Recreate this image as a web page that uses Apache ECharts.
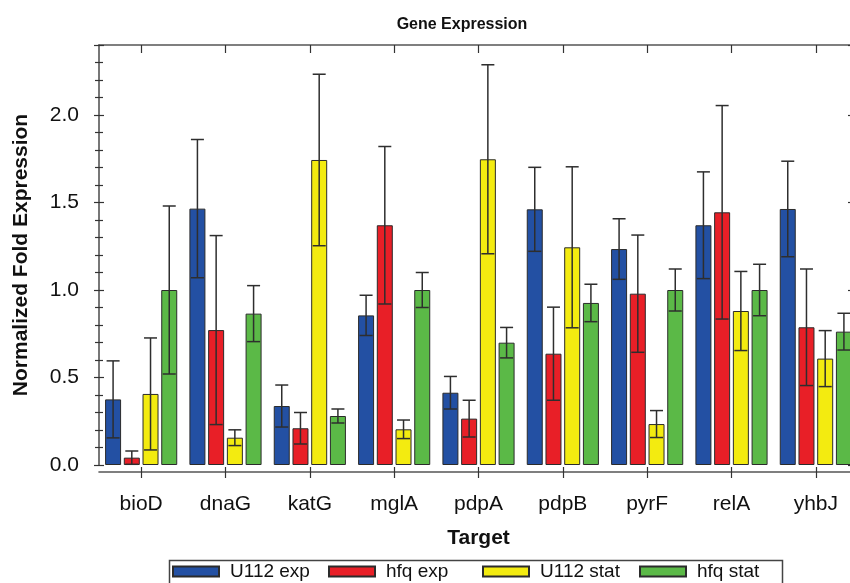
<!DOCTYPE html>
<html>
<head>
<meta charset="utf-8">
<script src="https://cdn.jsdelivr.net/npm/echarts@6/dist/echarts.min.js"></script>
<style>
html,body{margin:0;padding:0;background:#fff;overflow:hidden;width:850px;height:583px;}
#chart{width:858px;height:583px;}
</style>
</head>
<body>
<div id="chart"></div>
<script>
const categories = ['bioD','dnaG','katG','mglA','pdpA','pdpB','pyrF','relA','yhbJ'];
const seriesNames = ['U112 exp','hfq exp','U112 stat','hfq stat'];
const u112Exp = [0.375, 1.465, 0.337, 0.855, 0.413, 1.461, 1.234, 1.37, 1.463];
const u112ExpErr = [0.22, 0.395, 0.12, 0.115, 0.093, 0.24, 0.173, 0.305, 0.273];
const hfqExp = [0.042, 0.771, 0.21, 1.37, 0.265, 0.636, 0.979, 1.444, 0.787];
const hfqExpErr = [0.038, 0.54, 0.09, 0.45, 0.105, 0.266, 0.335, 0.61, 0.333];
const u112Stat = [0.406, 0.156, 1.743, 0.204, 1.747, 1.244, 0.234, 0.88, 0.608];
const u112StatErr = [0.32, 0.045, 0.49, 0.053, 0.54, 0.46, 0.077, 0.226, 0.16];
const hfqStat = [1.0, 0.865, 0.28, 1.0, 0.699, 0.926, 1.0, 1.0, 0.762];
const hfqStatErr = [0.48, 0.16, 0.04, 0.1, 0.087, 0.107, 0.12, 0.147, 0.105];
const yTicks = [0, 0.5, 1.0, 1.5, 2.0];

const values = [u112Exp, hfqExp, u112Stat, hfqStat];
const errs = [u112ExpErr, hfqExpErr, u112StatErr, hfqStatErr];
const colors = ['#2350a3', '#e81f27', '#f3eb10', '#5bb947'];

const BAR_W = 16, BAR_GAP = 0.17;
const FONT = 'Liberation Sans, Arial, sans-serif';
const LEGEND_LEFT = [172, 328, 482, 639];

const chart = echarts.init(document.getElementById('chart'));

const barSeries = seriesNames.map((name, k) => ({
  name, type: 'bar', xAxisIndex: 0, yAxisIndex: 0,
  data: values[k],
  barWidth: BAR_W, barGap: (BAR_GAP*100)+'%',
  itemStyle: {color: colors[k], borderColor: '#2b2b2b', borderWidth: 1},
  z: 2
}));

const errSeries = seriesNames.map((name, k) => ({
  type: 'custom', xAxisIndex: 0, yAxisIndex: 0, z: 5, silent: true,
  data: values[k].map((v, i) => [i, v - errs[k][i], v + errs[k][i]]),
  renderItem(params, api) {
    const i = api.value(0);
    const pLo = api.coord([i, Math.max(0, api.value(1))]);
    const pHi = api.coord([i, api.value(2)]);
    const step = BAR_W * (1 + BAR_GAP);
    const cx = pLo[0] + (k - 1.5) * step;
    const hw = 6.5;
    const st = {stroke: '#2e2e2e', lineWidth: 1.5};
    return {type: 'group', children: [
      {type: 'line', shape: {x1: cx, y1: pLo[1], x2: cx, y2: pHi[1]}, style: st},
      {type: 'line', shape: {x1: cx-hw, y1: pHi[1], x2: cx+hw, y2: pHi[1]}, style: st},
      {type: 'line', shape: {x1: cx-hw, y1: pLo[1], x2: cx+hw, y2: pLo[1]}, style: st}
    ]};
  }
}));

const axisLine = {show: true, onZero: false, lineStyle: {color: '#555', width: 1.6}};
const tickStyle = {color: '#333', width: 1.2};

const legends = seriesNames.map((name, k) => ({
  data: [name], left: LEGEND_LEFT[k], top: 562, padding: 0,
  orient: 'horizontal', icon: 'rect', selectedMode: false,
  itemWidth: 46, itemHeight: 10,
  textStyle: {fontFamily: FONT, fontSize: 19, color: '#111', padding: [0, 0, 0, 6]}
}));

const option = {
  backgroundColor: '#fff',
  animation: false,
  title: {
    text: 'Gene Expression', left: 457, top: 12, textAlign: 'center',
    textStyle: {fontFamily: FONT, fontSize: 16, fontWeight: 'bold', color: '#111'}
  },
  legend: legends,
  graphic: [{
    type: 'rect', left: 167, top: 558, z: 10, silent: true,
    shape: {width: 613, height: 40},
    style: {fill: 'none', stroke: '#444', lineWidth: 1.5}
  }],
  grid: {left: 99, right: 0, top: 45, bottom: 118, containLabel: false},
  xAxis: [
    {
      type: 'category', data: categories, position: 'bottom', offset: 7,
      axisLine, axisTick: {show: true, alignWithLabel: true, length: 6, lineStyle: tickStyle},
      axisLabel: {fontFamily: FONT, fontSize: 21, color: '#111', margin: 22},
      name: 'Target', nameLocation: 'middle', nameGap: 56,
      nameTextStyle: {fontFamily: FONT, fontSize: 21, fontWeight: 'bold', color: '#111'}
    },
    {
      type: 'category', data: categories, position: 'bottom', offset: 7,
      axisLine: {show: false, onZero: false}, axisTick: {show: true, inside: true, alignWithLabel: true, length: 5, lineStyle: tickStyle},
      axisLabel: {show: false}
    },
    {
      type: 'category', data: categories, position: 'top',
      axisLine, axisTick: {show: true, inside: true, alignWithLabel: true, length: 8, lineStyle: tickStyle},
      axisLabel: {show: false}
    }
  ],
  yAxis: [
    {
      type: 'value', min: 0, max: 2.4, interval: 0.5, position: 'left',
      axisLine, splitLine: {show: false},
      axisTick: {show: true, length: 5, lineStyle: tickStyle},
      minorTick: {show: true, splitNumber: 5, length: 4, lineStyle: tickStyle},
      axisLabel: {fontFamily: FONT, fontSize: 21, color: '#111', margin: 20, showMaxLabel: false,
        formatter: v => (yTicks.some(t => Math.abs(t - v) < 1e-9) ? v.toFixed(1) : '')},
      name: 'Normalized Fold Expression', nameLocation: 'middle', nameGap: 67,
      nameTextStyle: {fontFamily: FONT, fontSize: 21, fontWeight: 'bold', color: '#111'}
    },
    {
      type: 'value', min: 0, max: 2.4, interval: 0.5, position: 'left',
      axisLine: {show: false}, splitLine: {show: false},
      axisTick: {show: true, inside: true, length: 5, lineStyle: tickStyle},
      minorTick: {show: true, splitNumber: 5, length: 4, lineStyle: tickStyle},
      axisLabel: {show: false}
    },
    {
      type: 'value', min: 0, max: 2.4, interval: 0.5, position: 'right',
      axisLine, splitLine: {show: false},
      axisTick: {show: true, inside: true, length: 10, lineStyle: tickStyle},
      axisLabel: {show: false}
    }
  ],
  series: [...barSeries, ...errSeries]
};
chart.setOption(option);
</script>
</body>
</html>
